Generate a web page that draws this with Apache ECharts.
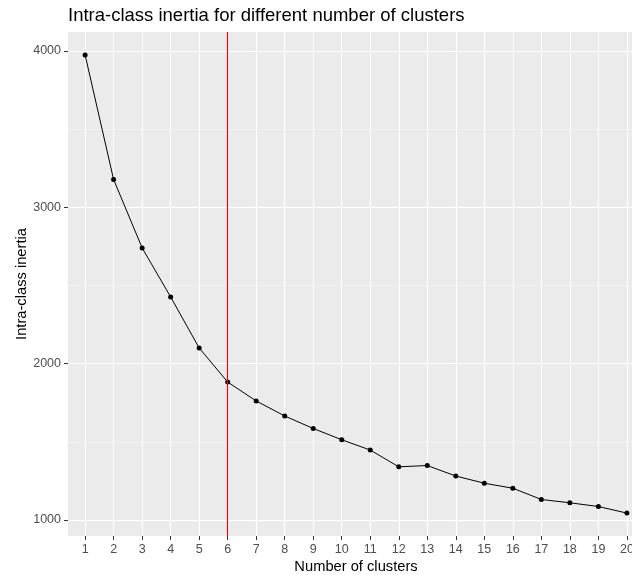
<!DOCTYPE html>
<html>
<head>
<meta charset="utf-8">
<script src="https://cdn.jsdelivr.net/npm/echarts@6/dist/echarts.min.js"></script>
<style>
html,body{margin:0;padding:0;background:#fff;}
#chart{width:632px;height:575px;}
</style>
</head>
<body>
<div id="chart"></div>
<script>
const clusters = [1,2,3,4,5,6,7,8,9,10,11,12,13,14,15,16,17,18,19,20];
const inertia = [3974,3177,2740,2426,2100,1882,1761,1665,1585,1513,1447,1340,1348,1281,1235,1203,1131,1110,1086,1044];
const xTickValues = [1,2,3,4,5,6,7,8,9,10,11,12,13,14,15,16,17,18,19,20];
const yTickValues = [1000,2000,3000,4000];
const yMinorValues = [1500,2500,3500];
const chosenK = 6;

const FONT = "'Liberation Sans', Arial, sans-serif";
const chart = echarts.init(document.getElementById('chart'), null, {renderer:'canvas'});

// ggplot-style expansion: discrete x (0.6 units), continuous y (5%)
const yMinData = Math.min(...inertia), yMaxData = Math.max(...inertia);
const yPad = (yMaxData - yMinData) * 0.05;
const xMin = clusters[0] - 0.6, xMax = clusters[clusters.length-1] + 0.6;

chart.setOption({
  animation: false,
  backgroundColor: '#ffffff',
  title: {
    text: 'Intra-class inertia for different number of clusters',
    left: 68, top: 6, padding: 0,
    textStyle: {fontFamily: FONT, fontSize: 18.5, fontWeight: 'normal', color: '#000'}
  },
  grid: {
    left: 68, top: 32, right: -12, bottom: 39,
    outerBoundsMode: 'none', containLabel: false,
    show: true, backgroundColor: '#EBEBEB', borderWidth: 0
  },
  xAxis: {
    type: 'value', min: xMin, max: xMax,
    name: 'Number of clusters', nameLocation: 'middle', nameGap: 23, nameMoveOverlap: false,
    nameTextStyle: {fontFamily: FONT, fontSize: 14.7, color: '#000'},
    axisLine: {show: false},
    axisTick: {show: true, customValues: xTickValues, length: 4, lineStyle: {color: '#333333', width: 1}},
    axisLabel: {customValues: xTickValues, fontFamily: FONT, fontSize: 12.5, color: '#4D4D4D', margin: 7},
    splitLine: {show: true, lineStyle: {color: '#FFFFFF', width: 1.1}}
  },
  yAxis: [{
    type: 'value', min: yMinData - yPad, max: yMaxData + yPad,
    name: 'Intra-class inertia', nameLocation: 'middle', nameGap: 39, nameRotate: 90, nameMoveOverlap: false,
    nameTextStyle: {fontFamily: FONT, fontSize: 14.7, color: '#000'},
    axisLine: {show: false},
    axisTick: {show: true, customValues: yTickValues, length: 4, lineStyle: {color: '#333333', width: 1}},
    axisLabel: {customValues: yTickValues, fontFamily: FONT, fontSize: 12.5, color: '#4D4D4D', margin: 7,
      formatter: v => String(v)},
    splitLine: {show: true, lineStyle: {color: '#FFFFFF', width: 1.1}}
  },{
    type: 'value', min: yMinData - yPad, max: yMaxData + yPad, position: 'left',
    axisLine: {show: false},
    axisTick: {show: false, customValues: yMinorValues},
    axisLabel: {show: false, customValues: yMinorValues},
    splitLine: {show: true, lineStyle: {color: '#F7F7F7', width: 0.6}}
  }],
  series: [{
    type: 'line',
    data: clusters.map((c, i) => [c, inertia[i]]),
    yAxisIndex: 0,
    symbol: 'circle', symbolSize: 5,
    itemStyle: {color: '#000'},
    lineStyle: {color: '#000', width: 1},
    z: 3,
    markLine: {
      silent: true, symbol: 'none', label: {show: false},
      lineStyle: {color: '#FF0000', width: 1.1, type: 'solid', opacity: 1},
      itemStyle: {color: '#FF0000'},
      emphasis: {disabled: true},
      data: [{xAxis: chosenK, lineStyle: {color: '#FF0000'}}]
    }
  }]
});
</script>
</body>
</html>
